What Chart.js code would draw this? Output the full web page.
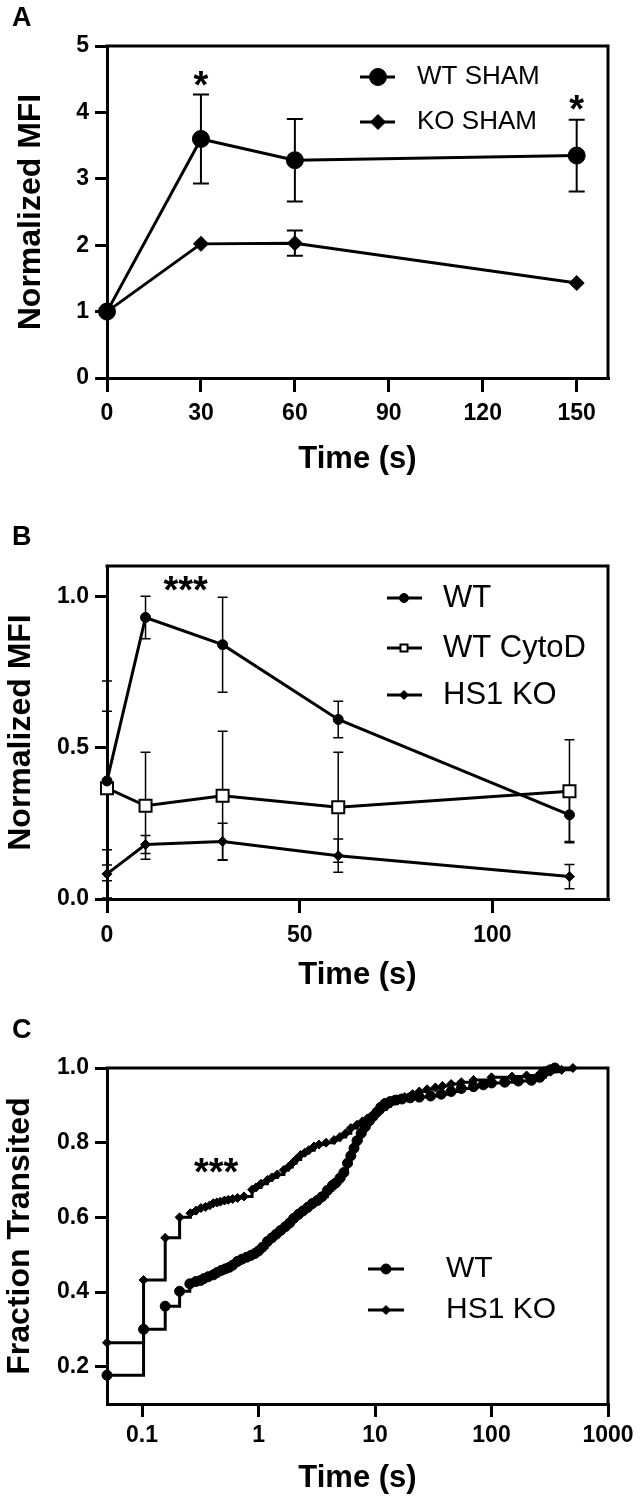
<!DOCTYPE html>
<html>
<head>
<meta charset="utf-8">
<script src="https://cdn.jsdelivr.net/npm/chart.js@4.4.1/dist/chart.umd.min.js"></script>
<style>
  body { margin: 0; background: #fff; }
  #page { position: relative; width: 641px; height: 1500px; }
  canvas { position: absolute; left: 0; }
  .tag { position: absolute; left: 12px; font: bold 27px 'Liberation Sans', Arial, sans-serif; line-height: 27px; color: #000; }
</style>
</head>
<body>
<div id="page">
  <canvas id="chartA" width="641" height="500" style="top:0"></canvas>
  <canvas id="chartB" width="641" height="500" style="top:500px"></canvas>
  <canvas id="chartC" width="641" height="500" style="top:1000px"></canvas>
  <div class="tag" style="top:4px">A</div>
  <div class="tag" style="top:523px">B</div>
  <div class="tag" style="top:1016px">C</div>
</div>
<script>
// Panel A - normalized MFI, sham groups
const timeA = [0, 30, 60, 150];
const wtShamA = [1.0, 3.6, 3.28, 3.35];
const wtShamErrA = [0, 0.67, 0.62, 0.54];
const koShamA = [1.0, 2.02, 2.03, 1.43];
const koShamErrA = [0, 0, 0.19, 0];
const xTicksA = [0, 30, 60, 90, 120, 150];
const yTicksA = [0, 1, 2, 3, 4, 5];

// Panel B - normalized MFI over time
const timeB = [0, 10, 30, 60, 120];
const wtB = [0.39, 0.93, 0.84, 0.593, 0.278];
const wtErrB = [0.33, 0.07, 0.157, 0.06, 0.088];
const cytoDB = [0.366, 0.308, 0.341, 0.303, 0.356];
const cytoDErrB = [0.254, 0.177, 0.213, 0.182, 0.17];
const hs1KoB = [0.083, 0.18, 0.19, 0.143, 0.074];
const hs1KoErrB = [0.08, 0.03, 0.06, 0.055, 0.04];
const xTicksB = [0, 50, 100];
const yTicksB = [0, 0.5, 1.0];

// Panel C - cumulative fraction transited (log time)
const timeWtC = [0.05, 0.103, 0.158, 0.21, 0.257, 0.29, 0.318, 0.34, 0.37, 0.41,
  0.44, 0.48, 0.52, 0.56, 0.6, 0.66, 0.72, 0.79, 0.86, 0.93,
  1.0, 1.08, 1.19, 1.3, 1.42, 1.55, 1.7, 1.85, 2.0, 2.2,
  2.4, 2.65, 2.9, 3.2, 3.5, 3.9, 4.3, 4.6, 5.0, 5.4,
  5.8, 6.2, 6.6, 7.0, 7.6, 8.2, 8.9, 9.6, 10.4, 11.2,
  12.2, 13.5, 15, 17, 20, 24, 30, 37, 45, 55,
  70, 85, 100, 130, 170, 220, 260, 290, 320, 350];
const fracWtC = [0.177, 0.30, 0.362, 0.402, 0.422, 0.428, 0.431, 0.436, 0.441, 0.446,
  0.452, 0.458, 0.462, 0.466, 0.472, 0.482, 0.488, 0.493, 0.498, 0.503,
  0.51, 0.52, 0.535, 0.545, 0.555, 0.565, 0.575, 0.585, 0.597, 0.608,
  0.617, 0.627, 0.637, 0.645, 0.655, 0.672, 0.685, 0.692, 0.705, 0.72,
  0.745, 0.765, 0.785, 0.805, 0.825, 0.842, 0.858, 0.87, 0.882, 0.895,
  0.905, 0.91, 0.914, 0.917, 0.92, 0.922, 0.925, 0.93, 0.937, 0.945,
  0.95, 0.955, 0.96, 0.962, 0.965, 0.967, 0.975, 0.99, 0.995, 1.0];
const timeKoC = [0.05, 0.103, 0.158, 0.21, 0.26, 0.29, 0.32, 0.35, 0.38, 0.41,
  0.44, 0.47, 0.51, 0.55, 0.6, 0.66, 0.75, 0.88, 0.95, 1.05,
  1.19, 1.3, 1.45, 1.65, 1.8, 1.95, 2.1, 2.3, 2.5, 2.7,
  3.0, 3.3, 3.8, 4.45, 5.0, 5.6, 6.2, 7.0, 7.8, 8.6,
  9.5, 10.5, 11.5, 12.5, 13.5, 15.6, 18, 21, 24, 28,
  33, 38, 45, 55, 70, 100, 150, 200, 260, 320,
  400, 500];
const fracKoC = [0.264, 0.432, 0.545, 0.60, 0.611, 0.618, 0.625, 0.628, 0.632, 0.638,
  0.64, 0.642, 0.645, 0.647, 0.649, 0.652, 0.656, 0.674, 0.68, 0.69,
  0.70, 0.707, 0.715, 0.727, 0.735, 0.745, 0.755, 0.767, 0.773, 0.78,
  0.79, 0.795, 0.80, 0.807, 0.815, 0.825, 0.839, 0.848, 0.857, 0.865,
  0.873, 0.882, 0.89, 0.897, 0.905, 0.916, 0.922, 0.93, 0.937, 0.943,
  0.948, 0.952, 0.957, 0.962, 0.968, 0.975, 0.977, 0.98, 0.985, 0.99,
  0.995, 1.0];
const xTicksC = [0.1, 1, 10, 100, 1000];
const yTicksC = [0.2, 0.4, 0.6, 0.8, 1.0];

Chart.defaults.font.family = "'Liberation Sans', Arial, Helvetica, sans-serif";
Chart.defaults.color = '#000';

const pts = (xs, ys) => xs.map((x, i) => ({ x: x, y: ys[i] }));

// top and right sides of the box
const framePlugin = {
  id: 'frame',
  afterDraw(chart) {
    const { ctx, chartArea: a } = chart;
    ctx.save();
    ctx.strokeStyle = '#000';
    ctx.lineWidth = 3;
    ctx.lineCap = 'square';
    ctx.beginPath();
    ctx.moveTo(a.left, a.top);
    ctx.lineTo(a.right, a.top);
    ctx.lineTo(a.right, a.bottom);
    ctx.stroke();
    ctx.restore();
  }
};

// vertical error bars with caps, read from dataset.err
const errorBarPlugin = {
  id: 'errorBars',
  beforeDatasetsDraw(chart, args, opts) {
    const ctx = chart.ctx;
    const ys = chart.scales.y;
    chart.data.datasets.forEach((ds, i) => {
      if (!ds.err) return;
      const meta = chart.getDatasetMeta(i);
      ctx.save();
      ctx.strokeStyle = '#000';
      ctx.lineWidth = opts.width;
      meta.data.forEach((pt, j) => {
        const e = ds.err[j];
        if (!e) return;
        const v = ds.data[j].y;
        const top = ys.getPixelForValue(v + e);
        const bot = ys.getPixelForValue(v - e);
        ctx.beginPath();
        ctx.moveTo(pt.x, top); ctx.lineTo(pt.x, bot);
        ctx.moveTo(pt.x - opts.cap, top); ctx.lineTo(pt.x + opts.cap, top);
        ctx.moveTo(pt.x - opts.cap, bot); ctx.lineTo(pt.x + opts.cap, bot);
        ctx.stroke();
      });
      ctx.restore();
    });
  }
};

function marker(ctx, style, x, y, r) {
  ctx.beginPath();
  if (style === 'circle') {
    ctx.arc(x, y, r, 0, Math.PI * 2);
  } else if (style === 'rect') {
    const s = r * Math.SQRT1_2;
    ctx.rect(x - s, y - s, 2 * s, 2 * s);
  } else {
    ctx.moveTo(x, y - r); ctx.lineTo(x + r, y); ctx.lineTo(x, y + r); ctx.lineTo(x - r, y);
    ctx.closePath();
  }
  ctx.fill();
  ctx.stroke();
}

// legend drawn as line + symbol + label
const lineLegendPlugin = {
  id: 'lineLegend',
  afterDraw(chart, args, o) {
    const ctx = chart.ctx;
    chart.data.datasets.forEach((ds, i) => {
      const y = o.rows[i];
      ctx.save();
      ctx.strokeStyle = '#000';
      ctx.lineWidth = 3;
      ctx.beginPath();
      ctx.moveTo(o.x1, y); ctx.lineTo(o.x2, y);
      ctx.stroke();
      ctx.fillStyle = ds.pointBackgroundColor;
      ctx.lineWidth = ds.pointBorderWidth;
      marker(ctx, ds.pointStyle, o.mx, y, o.radius[i]);
      ctx.fillStyle = '#000';
      ctx.font = o.size + "px 'Liberation Sans', Arial, sans-serif";
      ctx.textAlign = 'left';
      ctx.textBaseline = 'middle';
      ctx.fillText(ds.label, o.tx, y);
      ctx.restore();
    });
  }
};

// significance stars placed in data coordinates
const starPlugin = {
  id: 'stars',
  afterDraw(chart, args, o) {
    const { ctx, scales: { x, y } } = chart;
    ctx.save();
    ctx.fillStyle = '#000';
    ctx.font = "bold 38px 'Liberation Sans', Arial, sans-serif";
    ctx.textAlign = 'center';
    ctx.textBaseline = 'middle';
    o.items.forEach(it => ctx.fillText(it.text, x.getPixelForValue(it.x), y.getPixelForValue(it.y)));
    ctx.restore();
  }
};

function buildScales(c) {
  const grid = (len) => ({ drawOnChartArea: false, drawTicks: true, tickLength: len, tickWidth: 3, lineWidth: 3, tickColor: '#000', color: '#000' });
  const border = { display: true, color: '#000', width: 3 };
  const tickFont = { size: 23, weight: 'bold' };
  return {
    x: {
      type: c.xType, min: c.xMin, max: c.xMax,
      afterBuildTicks: s => { s.ticks = c.xTicks.map(v => ({ value: v })); },
      afterFit: s => { s.height = c.xHeight; },
      ticks: { color: '#000', font: tickFont, padding: c.xPad, maxRotation: 0, minRotation: 0, autoSkip: false, callback: v => String(v) },
      grid: grid(c.xTickLen),
      border: border,
      title: { display: true, text: 'Time (s)', color: '#000', font: { size: 31, weight: 'bold' }, padding: { top: 0, bottom: c.xTitlePad } }
    },
    y: {
      type: 'linear', min: c.yMin, max: c.yMax,
      afterBuildTicks: s => { s.ticks = c.yTicks.map(v => ({ value: v })); },
      afterFit: s => { s.width = 107; },
      ticks: { color: '#000', font: tickFont, padding: 6, autoSkip: false, callback: c.yFmt },
      grid: grid(12),
      border: border,
      title: { display: true, text: c.yTitle, color: '#000', font: { size: 32, weight: 'bold' }, padding: { top: c.yTitlePad, bottom: 0 } }
    }
  };
}

function baseOptions(c, legend, stars) {
  return {
    responsive: false,
    animation: false,
    layout: { padding: { top: c.top, right: 33, left: 0, bottom: 0 } },
    scales: buildScales(c),
    plugins: {
      legend: { display: false },
      tooltip: { enabled: false },
      errorBars: { width: c.errWidth, cap: c.cap },
      lineLegend: legend,
      stars: stars
    }
  };
}

const plugins = [framePlugin, errorBarPlugin, lineLegendPlugin, starPlugin];

// ---- Panel A
new Chart(document.getElementById('chartA'), {
  type: 'line',
  data: {
    datasets: [
      { label: 'WT SHAM', data: pts(timeA, wtShamA), err: wtShamErrA, borderColor: '#000', borderWidth: 3,
        pointStyle: 'circle', pointRadius: 8.5, pointBackgroundColor: '#000', pointBorderColor: '#000', pointBorderWidth: 1, clip: false },
      { label: 'KO SHAM', data: pts(timeA, koShamA), err: koShamErrA, borderColor: '#000', borderWidth: 3,
        pointStyle: 'rectRot', pointRadius: 7.5, pointBackgroundColor: '#000', pointBorderColor: '#000', pointBorderWidth: 1, clip: false }
    ]
  },
  options: baseOptions(
    { top: 46, xType: 'linear', xMin: 0, xMax: 160, xTicks: xTicksA, xHeight: 122, xPad: 8, xTickLen: 14, xTitlePad: 22,
      yMin: 0, yMax: 5, yTicks: yTicksA, yFmt: v => String(v), yTitle: 'Normalized MFI', yTitlePad: 12, errWidth: 2, cap: 8 },
    { x1: 360, x2: 395, mx: 378, tx: 417, rows: [77, 122], radius: [8.5, 7.5], size: 26 },
    { items: [{ x: 30, y: 4.38, text: '*' }, { x: 150, y: 4.02, text: '*' }] }
  ),
  plugins: plugins
});

// ---- Panel B
new Chart(document.getElementById('chartB'), {
  type: 'line',
  data: {
    datasets: [
      { label: 'WT', data: pts(timeB, wtB), err: wtErrB, borderColor: '#000', borderWidth: 3,
        pointStyle: 'circle', pointRadius: 5, pointBackgroundColor: '#000', pointBorderColor: '#000', pointBorderWidth: 1, clip: false },
      { label: 'WT CytoD', data: pts(timeB, cytoDB), err: cytoDErrB, borderColor: '#000', borderWidth: 3,
        pointStyle: 'rect', pointRadius: 8.5, pointBackgroundColor: '#fff', pointBorderColor: '#000', pointBorderWidth: 2, clip: false },
      { label: 'HS1 KO', data: pts(timeB, hs1KoB), err: hs1KoErrB, borderColor: '#000', borderWidth: 3,
        pointStyle: 'rectRot', pointRadius: 5, pointBackgroundColor: '#000', pointBorderColor: '#000', pointBorderWidth: 1, clip: false }
    ]
  },
  options: baseOptions(
    { top: 66, xType: 'linear', xMin: 0, xMax: 130, xTicks: xTicksB, xHeight: 101, xPad: 9, xTickLen: 14, xTitlePad: 6,
      yMin: 0, yMax: 1.1, yTicks: yTicksB, yFmt: v => v.toFixed(1), yTitle: 'Normalized MFI', yTitlePad: 2, errWidth: 1.5, cap: 5 },
    { x1: 387, x2: 422, mx: 404, tx: 443, rows: [98, 148, 195], radius: [4.5, 5, 4.5], size: 31 },
    { items: [{ x: 20.4, y: 1.011, text: '***' }] }
  ),
  plugins: plugins
});

// ---- Panel C
new Chart(document.getElementById('chartC'), {
  type: 'line',
  data: {
    datasets: [
      { label: 'WT', data: pts(timeWtC, fracWtC), borderColor: '#000', borderWidth: 3, stepped: 'before',
        pointStyle: 'circle', pointRadius: 5, pointBackgroundColor: '#000', pointBorderColor: '#000', pointBorderWidth: 1, clip: false },
      { label: 'HS1 KO', data: pts(timeKoC, fracKoC), borderColor: '#000', borderWidth: 3, stepped: 'before',
        pointStyle: 'rectRot', pointRadius: 4.5, pointBackgroundColor: '#000', pointBorderColor: '#000', pointBorderWidth: 1, clip: false }
    ]
  },
  options: baseOptions(
    { top: 68, xType: 'logarithmic', xMin: 0.05, xMax: 1000, xTicks: xTicksC, xHeight: 96, xPad: 5, xTickLen: 13, xTitlePad: 3,
      yMin: 0.1, yMax: 1.0, yTicks: yTicksC, yFmt: v => v.toFixed(1), yTitle: 'Fraction Transited', yTitlePad: 1, errWidth: 2, cap: 5 },
    { x1: 368, x2: 404, mx: 386, tx: 446, rows: [269, 310], radius: [5, 4.5], size: 30 },
    { items: [{ x: 0.432, y: 0.716, text: '***' }] }
  ),
  plugins: plugins
});
</script>
</body>
</html>
